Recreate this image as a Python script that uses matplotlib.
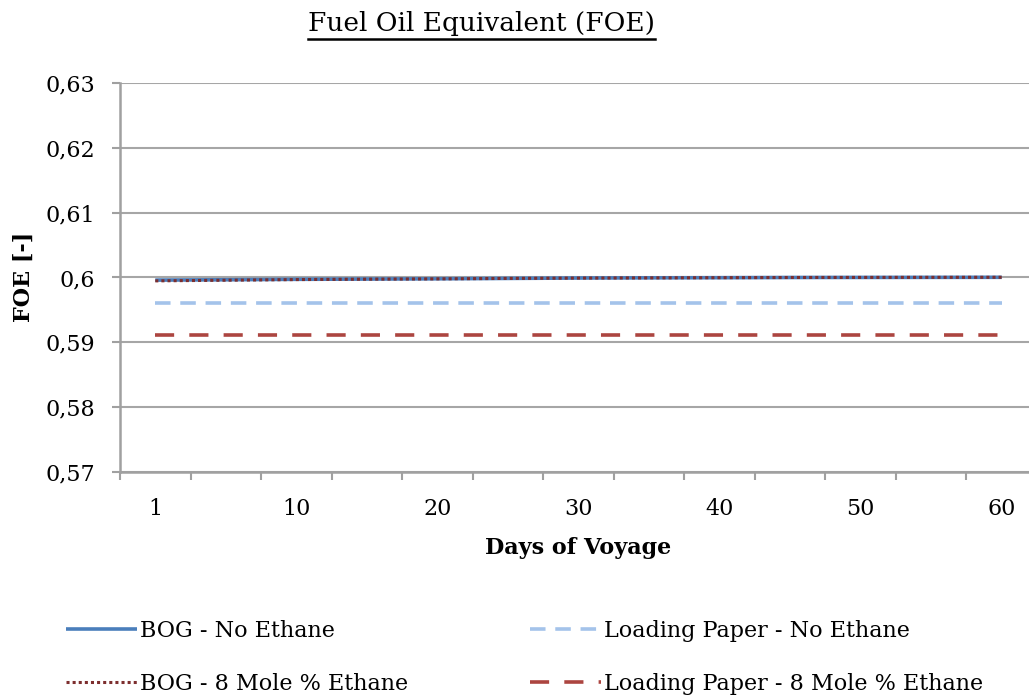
import matplotlib
matplotlib.use("Agg")
import matplotlib.pyplot as plt
from matplotlib.lines import Line2D
from matplotlib.ticker import FixedLocator, NullFormatter

# ---- data ----
days = [1, 5, 10, 15, 20, 25, 30, 35, 40, 45, 50, 55, 60]
day_labels = ["1", "10", "20", "30", "40", "50", "60"]
bog_no_ethane = [0.59960, 0.59965, 0.59972, 0.59976, 0.59980, 0.59986, 0.59992,
                 0.59995, 0.59997, 0.60000, 0.60001, 0.60002, 0.60003]
bog_8_ethane = [0.59948, 0.59958, 0.59968, 0.59974, 0.59979, 0.59986, 0.59991,
                0.59994, 0.59997, 0.60000, 0.60001, 0.60002, 0.60003]
lp_no_ethane = [0.5961] * 13
lp_8_ethane = [0.5912] * 13
y_ticks = [0.57, 0.58, 0.59, 0.60, 0.61, 0.62, 0.63]
y_tick_labels = ["0,57", "0,58", "0,59", "0,6", "0,61", "0,62", "0,63"]

FONT = "DejaVu Serif"
FS = 16
W, H = 1029, 697
fig = plt.figure(figsize=(W / 100, H / 100), dpi=100)
ax = fig.add_axes([120 / W, (H - 472) / H, (1037 - 120) / W, (472 - 83) / H])

x = list(range(len(days)))
l1, = ax.plot(x, bog_no_ethane, color="#4A7EBB", lw=2.6, solid_capstyle="butt", zorder=3)
l2, = ax.plot(x, bog_8_ethane, color="#7D2E2E", lw=2.2, dashes=(1, 1), zorder=4)
l3, = ax.plot(x, lp_no_ethane, color="#A4C3EA", lw=2.6, dashes=(4.3, 2.7), zorder=3)
l4, = ax.plot(x, lp_8_ethane, color="#AC4540", lw=2.6, dashes=(5.3, 4.2), zorder=3)

ax.set_xlim(-0.5, len(days) - 0.5)
ax.set_ylim(0.57, 0.63)
ax.set_yticks(y_ticks)
ax.set_yticklabels(y_tick_labels, fontsize=FS, family=FONT)
label_pos = [days.index(int(s)) for s in day_labels]
ax.set_xticks(label_pos)
ax.set_xticklabels(day_labels, fontsize=FS, family=FONT)
ax.xaxis.set_minor_locator(FixedLocator([i - 0.5 for i in range(len(days) + 1)]))
ax.xaxis.set_minor_formatter(NullFormatter())
ax.tick_params(axis="x", which="major", length=0, pad=19)
ax.tick_params(axis="x", which="minor", length=6, width=1.5, color="#A0A0A0")
ax.tick_params(axis="y", length=6, width=1.5, color="#A0A0A0", pad=12)

ax.grid(axis="y", color="#A6A6A6", lw=1.5)
ax.set_axisbelow(True)
for s in ["top", "right"]:
    ax.spines[s].set_visible(False)
for s in ["left", "bottom"]:
    ax.spines[s].set_color("#A0A0A0")
    ax.spines[s].set_linewidth(1.8)

fig.text(578 / W, 1 - 548 / H, "Days of Voyage", ha="center", va="center",
         fontsize=FS, fontweight="bold", family=FONT)
fig.text(24 / W, 1 - 277 / H, "FOE [-]", ha="center", va="center", rotation=90,
         fontsize=FS, fontweight="bold", family=FONT)

title = fig.text(481 / W, 1 - 24 / H, "Fuel Oil Equivalent (FOE)", ha="center",
                 va="center", fontsize=19, family=FONT)

fig.legend([l1, l2, l3, l4],
           ["BOG - No Ethane", "BOG - 8 Mole % Ethane",
            "Loading Paper - No Ethane", "Loading Paper - 8 Mole % Ethane"],
           ncol=2, loc="upper left", bbox_to_anchor=(57 / W, 1 - 611 / H),
           frameon=False, prop={"family": FONT, "size": FS},
           handlelength=3.2, handletextpad=0.15, columnspacing=5.45,
           labelspacing=1.4, borderaxespad=0)

fig.canvas.draw()
bb = title.get_window_extent()
fig.add_artist(Line2D([bb.x0 / W, bb.x1 / W], [(bb.y0 - 2) / H, (bb.y0 - 2) / H],
                      transform=fig.transFigure, color="black", lw=1.8))

fig.savefig("out.png", dpi=100)
